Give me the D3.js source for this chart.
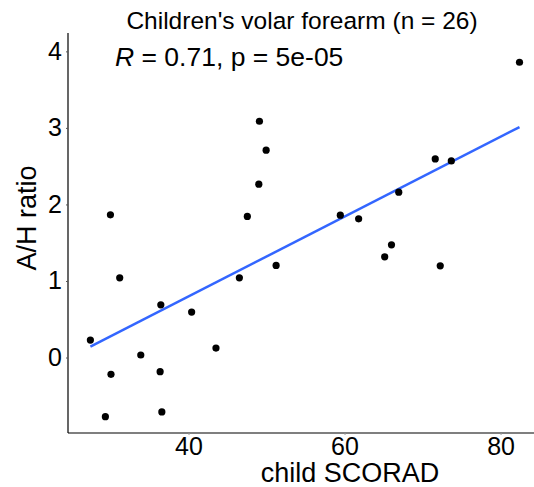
<!DOCTYPE html>
<html>
<head>
<meta charset="utf-8">
<script src="https://cdn.jsdelivr.net/npm/d3@7/dist/d3.min.js"></script>
<style>
  html, body { margin: 0; padding: 0; background: #fff; }
  svg { display: block; font-family: "Liberation Sans", Arial, sans-serif; }
</style>
</head>
<body>
<svg id="chart" width="534" height="487"></svg>
<script>
// child SCORAD score per subject
const scorad = [
  49.09, 49.95, 49.01, 47.54, 29.99, 31.18, 46.52, 51.23,
  82.43, 71.63, 73.69, 66.95, 59.46, 61.81, 66.02, 65.15, 72.27,
  27.42, 36.45, 40.40, 33.88, 43.52, 30.06, 36.36, 29.34, 36.58
];
// A/H ratio per subject
const ahRatio = [
  3.087, 2.709, 2.265, 1.843, 1.864, 1.042, 1.042, 1.204,
  3.858, 2.595, 2.569, 2.161, 1.860, 1.812, 1.473, 1.316, 1.198,
  0.228, 0.689, 0.594, 0.033, 0.124, -0.219, -0.185, -0.773, -0.711
];
const xTicks = [40, 60, 80];
const yTicks = [0, 1, 2, 3, 4];
const titleText = "Children's volar forearm (n = 26)";
const corR = "0.71";
const corP = "5e-05";
const xLabel = "child SCORAD";
const yLabel = "A/H ratio";

const W = 534, H = 487;
const margin = { left: 68, right: 0, top: 33, bottom: 54 };
const svg = d3.select("#chart");

const x = d3.scaleLinear().domain([24.55, 84.29]).range([margin.left, W - margin.right]);
const y = d3.scaleLinear().domain([-0.986, 4.24]).range([H - margin.bottom, margin.top]);

const points = scorad.map((v, i) => ({ x: v, y: ahRatio[i] }));

// least-squares fit line over the observed x range
const mx = d3.mean(scorad), my = d3.mean(ahRatio);
const sxy = d3.sum(points, d => (d.x - mx) * (d.y - my));
const sxx = d3.sum(points, d => (d.x - mx) ** 2);
const slope = sxy / sxx, intercept = my - slope * mx;
const [xmin, xmax] = d3.extent(scorad);

// axes
const xAxis = svg.append("g")
  .attr("transform", `translate(0,${H - margin.bottom})`)
  .call(d3.axisBottom(x).tickValues(xTicks).tickSize(2).tickPadding(2).tickFormat(d3.format("d")));
xAxis.select(".domain").attr("stroke", "#000").attr("stroke-width", 1.2).attr("d", `M${margin.left},0H${W}`);
xAxis.selectAll(".tick line").attr("stroke", "#999");
xAxis.selectAll(".tick text").attr("font-size", 25).attr("fill", "#000")
  .attr("font-family", "Liberation Sans, Arial, sans-serif");

const yAxis = svg.append("g")
  .attr("transform", `translate(${margin.left},0)`)
  .call(d3.axisLeft(y).tickValues(yTicks).tickSize(2).tickPadding(4).tickFormat(d3.format("d")));
yAxis.select(".domain").attr("stroke", "#000").attr("stroke-width", 1.2)
  .attr("d", `M0,${margin.top}V${H - margin.bottom}`);
yAxis.selectAll(".tick line").attr("stroke", "#555");
yAxis.selectAll(".tick text").attr("font-size", 25).attr("fill", "#000")
  .attr("font-family", "Liberation Sans, Arial, sans-serif");

// regression line
svg.append("line")
  .attr("x1", x(xmin)).attr("y1", y(intercept + slope * xmin))
  .attr("x2", x(xmax)).attr("y2", y(intercept + slope * xmax))
  .attr("stroke", "#3366FF").attr("stroke-width", 2.5);

// points
svg.append("g").selectAll("circle").data(points).join("circle")
  .attr("cx", d => x(d.x)).attr("cy", d => y(d.y)).attr("r", 3.6).attr("fill", "#000");

// title
svg.append("text").attr("x", 302).attr("y", 29).attr("text-anchor", "middle")
  .attr("font-size", 24.5).text(titleText);

// correlation annotation
const ann = svg.append("text").attr("x", 115).attr("y", 66).attr("font-size", 26.5);
ann.append("tspan").attr("font-style", "italic").text("R");
ann.append("tspan").text(` = ${corR}, p = ${corP}`);

// axis titles
svg.append("text").attr("x", 350).attr("y", 482).attr("text-anchor", "middle")
  .attr("font-size", 27).text(xLabel);
svg.append("text").attr("transform", "translate(36,218) rotate(-90)").attr("text-anchor", "middle")
  .attr("font-size", 27).text(yLabel);
</script>
</body>
</html>
